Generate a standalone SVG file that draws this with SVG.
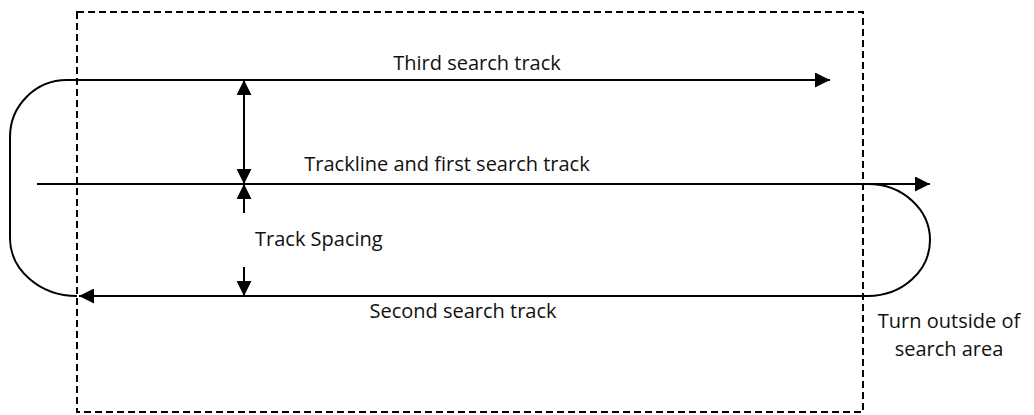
<svg xmlns="http://www.w3.org/2000/svg" width="1034" height="415" viewBox="0 0 1034 415">
<style>
.ln{fill:none;stroke:#000;stroke-width:2}
.dash{fill:none;stroke:#000;stroke-width:2;stroke-dasharray:7,4}
text{font-family:"Open Sans","Liberation Sans",sans-serif;font-size:20px;fill:#111}
</style>
<defs>
<marker id="ah" viewBox="0 0 10 10" refX="10" refY="5" markerWidth="15" markerHeight="15" markerUnits="userSpaceOnUse" orient="auto">
<path d="M0,0 L10,5 L0,10 Z" fill="#000"/>
</marker>
</defs>
<g id="search-area"><rect class="dash" x="77" y="12" width="786" height="400"/></g>
<g id="connectors">
<path class="ln" d="M830,80 H67 A57,57 0 0 0 10,137 V238 A67,58 0 0 0 77,296" />
<line class="ln" x1="67" y1="80" x2="830" y2="80" marker-end="url(#ah)"/>
<line class="ln" x1="37" y1="184" x2="930" y2="184" marker-end="url(#ah)"/>
<path class="ln" d="M868,184 A62,56 0 0 1 868,296 H79" marker-end="url(#ah)"/>
<line class="ln" x1="244" y1="132" x2="244" y2="80" marker-end="url(#ah)"/>
<line class="ln" x1="244" y1="132" x2="244" y2="184" marker-end="url(#ah)"/>
<line class="ln" x1="244" y1="213" x2="244" y2="184" marker-end="url(#ah)"/>
<line class="ln" x1="244" y1="267" x2="244" y2="296" marker-end="url(#ah)"/>
</g>
<g id="labels">
<text x="477" y="70" text-anchor="middle">Third search track</text>
<text x="447" y="171" text-anchor="middle">Trackline and first search track</text>
<text x="255" y="246">Track Spacing</text>
<text x="463" y="318" text-anchor="middle">Second search track</text>
<text x="949" y="328" text-anchor="middle">Turn outside of</text>
<text x="949" y="356" text-anchor="middle">search area</text>
</g>
</svg>
